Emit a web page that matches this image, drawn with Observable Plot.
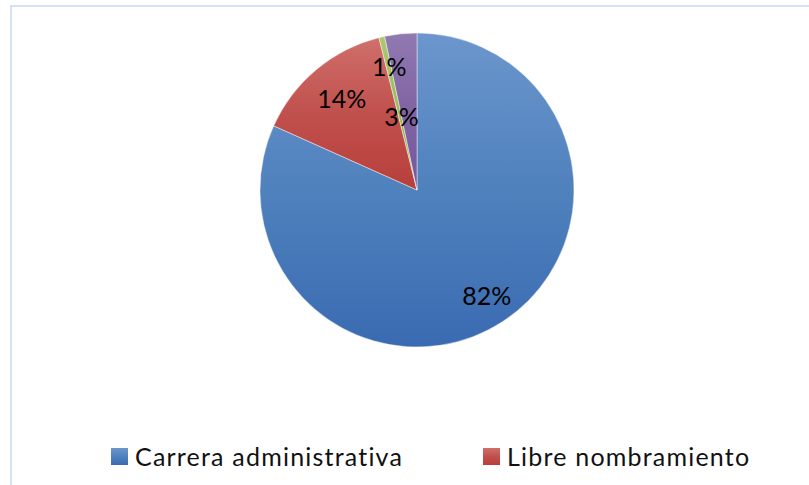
<!DOCTYPE html>
<html>
<head>
<meta charset="utf-8">
<script src="https://cdn.jsdelivr.net/npm/d3@7"></script>
<script src="https://cdn.jsdelivr.net/npm/@observablehq/plot@0.6"></script>
<style>
  html, body { margin: 0; padding: 0; background: #fff; }
  body { width: 809px; height: 485px; position: relative; overflow: hidden; font-family: Lato, "Open Sans", sans-serif; }
  #frame { position: absolute; left: 10px; top: 5px; width: 799px; height: 490px; border-left: 2px solid #d6e1f3; border-top: 2px solid #d6e1f3; box-sizing: border-box; }
  #chart { position: absolute; left: 0; top: 0; }
  .leg { position: absolute; top: 436px; height: 40px; display: flex; align-items: center; font-size: 25px; letter-spacing: 1.2px; color: #111; white-space: nowrap; }
  .sw { width: 17px; height: 17px; margin-right: 7px; }
</style>
</head>
<body>
<div id="frame"></div>
<div id="chart"></div>
<div id="legend"></div>
<script>
// ---- data ----
const categories = ["Carrera administrativa", "Libre nombramiento", "Otro 1", "Otro 2"];
const values = [81.7, 14.4, 0.6, 3.3];
const legendCategories = ["Carrera administrativa", "Libre nombramiento"];

// ---- styling / layout (not data) ----
const baseColors = ["#4f81bd", "#c0504d", "#9bbb59", "#8064a2"];
const gradStops = [
  ["#6c96cd", "#3a6bb2"],
  ["#d06f6b", "#b73f3b"],
  ["#abc870", "#8eb049"],
  ["#9179b1", "#74579e"]
];
const labelRadius = [0.81, 0.75, 0.80, 0.47];
const labelAngleShift = [0, 0, 0, -6.5];

const total = d3.sum(values);
const pie = d3.pie().sort(null).value(d => d.value)(categories.map((c, i) => ({category: c, value: values[i], i})));

const labels = pie.map((p, i) => {
  const mid = (p.startAngle + p.endAngle) / 2 + labelAngleShift[i] * Math.PI / 180;
  const r = labelRadius[i];
  return {x: r * Math.sin(mid), y: r * Math.cos(mid), text: Math.round(p.data.value / total * 100) + "%"};
});

const pieMark = (index, scales) => {
  const cx = scales.x(0), cy = scales.y(0);
  const R = Math.abs(scales.x(1) - scales.x(0));
  const arc = d3.arc().innerRadius(0).outerRadius(R);
  const g = d3.create("svg:g");
  const defs = g.append("defs");
  gradStops.forEach((s, i) => {
    const lg = defs.append("linearGradient").attr("id", "grad" + i)
      .attr("x1", 0).attr("y1", 0).attr("x2", 0).attr("y2", 1);
    lg.append("stop").attr("offset", "0%").attr("stop-color", s[0]);
    lg.append("stop").attr("offset", "50%").attr("stop-color", baseColors[i]);
    lg.append("stop").attr("offset", "100%").attr("stop-color", s[1]);
  });
  g.append("g").attr("transform", `translate(${cx},${cy})`)
    .selectAll("path").data(pie).join("path")
    .attr("d", arc)
    .attr("fill", (d, i) => `url(#grad${i})`)
    .attr("stroke", "#ffffff")
    .attr("stroke-opacity", 0.55)
    .attr("stroke-width", 0.8);
  return g.node();
};

const plot = Plot.plot({
  width: 809,
  height: 430,
  margin: 0,
  x: {domain: [-1, 1], range: [260, 574], axis: null},
  y: {domain: [-1, 1], range: [347, 33], axis: null},
  style: {background: "transparent", fontFamily: "Lato, sans-serif"},
  marks: [
    pieMark,
    Plot.text(labels, {x: "x", y: "y", text: "text", fontSize: 25, fill: "#000", fontFamily: "Lato, sans-serif"})
  ]
});
document.getElementById("chart").appendChild(plot);

// legend
const legendLeft = [111, 483];
const legend = document.getElementById("legend");
legendCategories.forEach((c, k) => {
  const i = categories.indexOf(c);
  const item = document.createElement("div");
  item.className = "leg";
  item.style.left = legendLeft[k] + "px";
  const sw = document.createElement("div");
  sw.className = "sw";
  sw.style.background = `linear-gradient(${gradStops[i][0]}, ${baseColors[i]}, ${gradStops[i][1]})`;
  const t = document.createElement("span");
  t.textContent = c;
  item.appendChild(sw);
  item.appendChild(t);
  legend.appendChild(item);
});
</script>
</body>
</html>
